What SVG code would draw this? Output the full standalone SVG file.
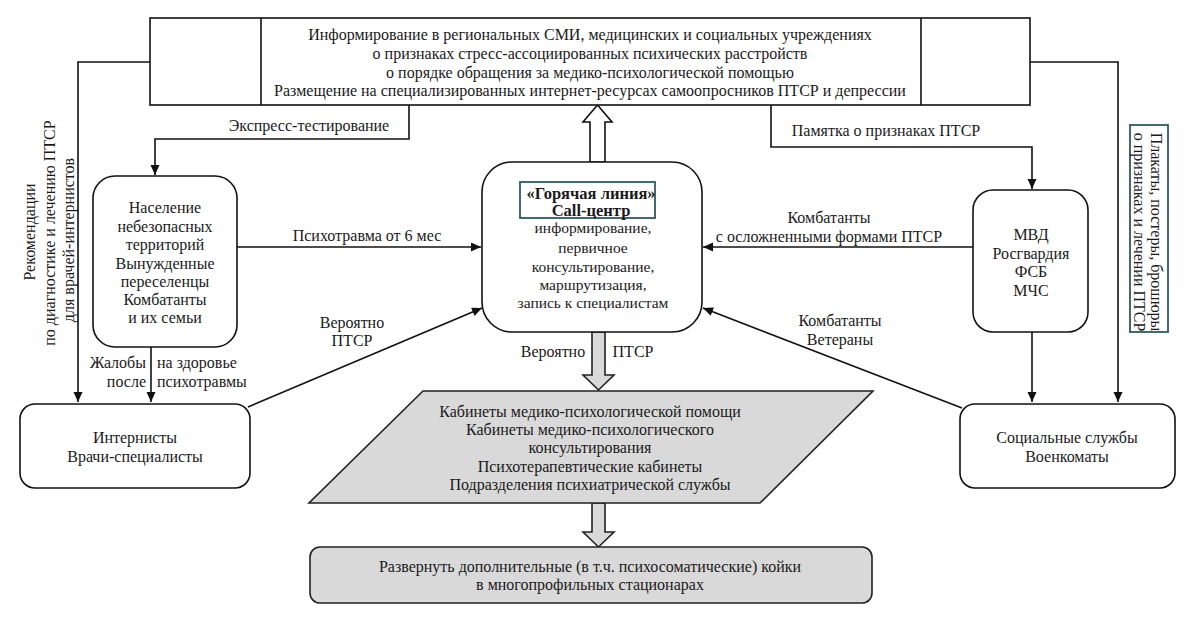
<svg xmlns="http://www.w3.org/2000/svg" width="1199" height="623" viewBox="0 0 1199 623">
<style>
text{font-family:"Liberation Serif","Times New Roman",serif;font-size:16px;fill:#1a1a1a}
.c{text-anchor:middle}
.box{fill:#fff;stroke:#111;stroke-width:1.6}
.gray{fill:#d9d9d9;stroke:#222;stroke-width:1.6}
.ln{fill:none;stroke:#111;stroke-width:1.6}
.teal{fill:none;stroke:#2f5a60;stroke-width:1.8}
.b{font-weight:bold;font-size:16.5px}
.s{font-size:15.5px}
</style>
<defs>
<marker id="ah" markerUnits="userSpaceOnUse" markerWidth="11" markerHeight="10" refX="10" refY="4.5" orient="auto">
<path d="M0,0 L10,4.5 L0,9 z" fill="#111"/>
</marker>
</defs>
<rect width="1199" height="623" fill="#fff"/>

<g id="connectors">
<polyline class="ln" points="150,62 78,62 78,402" marker-end="url(#ah)"/>
<polyline class="ln" points="1030,62 1118,62 1118,402" marker-end="url(#ah)"/>
<polyline class="ln" points="409,105 409,139 155,139 155,175" marker-end="url(#ah)"/>
<polyline class="ln" points="771,105 771,147 1032,147 1032,189" marker-end="url(#ah)"/>
<line class="ln" x1="237" y1="247" x2="481" y2="247" marker-end="url(#ah)"/>
<line class="ln" x1="973" y1="247" x2="703" y2="247" marker-end="url(#ah)"/>
<line class="ln" x1="151" y1="347" x2="151" y2="402" marker-end="url(#ah)"/>
<line class="ln" x1="1032" y1="332" x2="1032" y2="402" marker-end="url(#ah)"/>
<line class="ln" x1="248" y1="407" x2="482" y2="308" marker-end="url(#ah)"/>
<line class="ln" x1="962" y1="408" x2="703" y2="308" marker-end="url(#ah)"/>
<polygon class="box" points="590,162 590,122 583,122 597.5,105 612,122 605,122 605,162"/>
<polygon class="gray" points="592,332 592,375 583,375 598.5,390 614,375 605,375 605,332"/>
<polygon class="gray" points="592,503 592,532 583,532 598.5,547 614,532 605,532 605,503"/>
<text class="c" x="309" y="131">Экспресс-тестирование</text>
<text class="c" x="886" y="136">Памятка о признаках ПТСР</text>
<text class="c" x="367" y="241">Психотравма от 6 мес</text>
<text class="c" x="829" y="223">Комбатанты</text>
<text class="c" x="829" y="242">с осложненными формами ПТСР</text>
<text class="c" x="352" y="328">Вероятно</text>
<text class="c" x="352" y="346">ПТСР</text>
<text class="c" x="840" y="326">Комбатанты</text>
<text class="c" x="840" y="345">Ветераны</text>
<text class="c" x="553" y="357">Вероятно</text>
<text class="c" x="633" y="357">ПТСР</text>
<text x="146" y="368" text-anchor="end">Жалобы</text>
<text x="157" y="368">на здоровье</text>
<text x="146" y="387" text-anchor="end">после</text>
<text x="157" y="387">психотравмы</text>
<g transform="translate(35,232) rotate(-90)"><text class="c" x="0" y="0">Рекомендации</text></g>
<g transform="translate(55,233) rotate(-90)"><text class="c" x="0" y="0">по диагностике и лечению ПТСР</text></g>
<g transform="translate(74,240) rotate(-90)"><text class="c" x="0" y="0">для врачей-интернистов</text></g>
</g>

<g id="top-info">
<rect class="box" x="150" y="18" width="880" height="87"/>
<line class="ln" x1="261" y1="18" x2="261" y2="105"/>
<line class="ln" x1="921" y1="18" x2="921" y2="105"/>
<text class="c" x="590" y="40">Информирование в региональных СМИ, медицинских и социальных учреждениях</text>
<text class="c" x="590" y="59">о признаках стресс-ассоциированных психических расстройств</text>
<text class="c" x="590" y="78">о порядке обращения за медико-психологической помощью</text>
<text class="c" x="590" y="96">Размещение на специализированных интернет-ресурсах самоопросников ПТСР и депрессии</text>
</g>

<g id="population">
<rect class="box" x="93" y="176" width="144" height="171" rx="22"/>
<text class="c" x="165" y="213">Население</text>
<text class="c" x="165" y="232">небезопасных</text>
<text class="c" x="165" y="250">территорий</text>
<text class="c" x="165" y="269">Вынужденные</text>
<text class="c" x="165" y="287">переселенцы</text>
<text class="c" x="165" y="305">Комбатанты</text>
<text class="c" x="165" y="323">и их семьи</text>
</g>

<g id="hotline">
<rect class="box" x="482" y="162" width="220" height="170" rx="30"/>
<rect class="teal" x="520" y="182" width="135" height="36"/>
<text class="c b" x="591" y="199">«Горячая линия»</text>
<text class="c b" x="591" y="216">Call-центр</text>
<text class="c s" x="593" y="233">информирование,</text>
<text class="c s" x="593" y="253">первичное</text>
<text class="c s" x="593" y="272">консультирование,</text>
<text class="c s" x="593" y="290">маршрутизация,</text>
<text class="c s" x="593" y="308">запись к специалистам</text>
</g>

<g id="mvd">
<rect class="box" x="973" y="190" width="115" height="142" rx="20"/>
<text class="c" x="1031" y="240">МВД</text>
<text class="c" x="1031" y="259">Росгвардия</text>
<text class="c" x="1031" y="277">ФСБ</text>
<text class="c" x="1031" y="296">МЧС</text>
</g>

<g id="posters">
<rect class="teal" x="1130" y="125" width="38" height="207"/>
<g transform="translate(1151,232) rotate(90)"><text class="c" x="0" y="0">Плакаты, постеры, брошюры</text></g>
<g transform="translate(1134,232) rotate(90)"><text class="c" x="0" y="0">о признаках и лечении ПТСР</text></g>
</g>

<g id="internists">
<rect class="box" x="20" y="404" width="230" height="84" rx="15"/>
<text class="c" x="135" y="443">Интернисты</text>
<text class="c" x="135" y="462">Врачи-специалисты</text>
</g>

<g id="social">
<rect class="box" x="960" y="404" width="215" height="84" rx="15"/>
<text class="c" x="1067" y="443">Социальные службы</text>
<text class="c" x="1067" y="462">Военкоматы</text>
</g>

<g id="cabinets">
<polygon class="gray" points="423,391 873,391 760,503 309,503"/>
<text class="c" x="590" y="417">Кабинеты медико-психологической помощи</text>
<text class="c" x="590" y="435">Кабинеты медико-психологического</text>
<text class="c" x="590" y="453">консультирования</text>
<text class="c" x="590" y="472">Психотерапевтические кабинеты</text>
<text class="c" x="590" y="490">Подразделения психиатрической службы</text>
</g>

<g id="beds">
<rect class="gray" x="310" y="547" width="562" height="56" rx="10"/>
<text class="c" x="590" y="572">Развернуть дополнительные (в т.ч. психосоматические) койки</text>
<text class="c" x="590" y="590">в многопрофильных стационарах</text>
</g>
</svg>
